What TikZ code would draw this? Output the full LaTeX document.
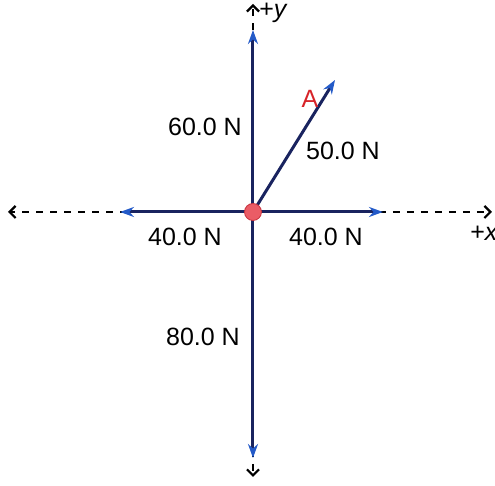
\documentclass[tikz,border=0pt]{standalone}
\usepackage{fontspec}
\setmainfont{Liberation Sans}
\usetikzlibrary{arrows.meta}
\definecolor{forcenavy}{RGB}{25,35,95}
\definecolor{forceblue}{RGB}{35,90,200}
\definecolor{dotred}{RGB}{234,92,102}
\definecolor{dotrim}{RGB}{200,50,62}
\definecolor{labelred}{RGB}{215,35,40}

\begin{document}
\begin{tikzpicture}[x=.5pt,y=.5pt,font=\fontsize{12.5}{15}\selectfont,
    force/.style={draw=forcenavy,line width=1.5pt,-{Stealth[length=7pt,width=5pt,color=forceblue]}},
    axis/.style={draw=black,line width=1pt,dash pattern=on 3.5pt off 3.5pt,-{Straight Barb[length=3pt,width=6pt,line width=1.1pt]}},
    dot/.style={circle,fill=dotred,draw=dotrim,line width=.4pt,minimum size=8.5pt,inner sep=0pt}]
  \useasboundingbox (-253,-274) rectangle (242,212);
  % axes
  \coordinate (O) at (0,0);
  \coordinate (xpos) at (239,0);
  \coordinate (xneg) at (-245,0);
  \coordinate (ypos) at (0,208);
  \coordinate (yneg) at (0,-265);
  \draw[axis] (O) -- (xpos);
  \draw[axis] (O) -- (xneg);
  \draw[axis] (O) -- (ypos);
  \draw[axis] (O) -- (yneg);
  % forces
  \coordinate (Fup) at (0,182);
  \coordinate (Fdown) at (0,-246);
  \coordinate (Fright) at (130,0);
  \coordinate (Fleft) at (-133,0);
  \coordinate (FA) at (82,132);
  \draw[force] (O) -- (Fup);
  \draw[force] (O) -- (Fdown);
  \draw[force] (O) -- (Fright);
  \draw[force] (O) -- (Fleft);
  \draw[force] (O) -- (FA);
  \node[dot] (P) at (O) {};
  % labels
  \node (l60) at (-48,85) {60.0 N};
  \node (l50) at (90,61) {50.0 N};
  \node[text=labelred] (lA) at (57,113) {A};
  \node (l40a) at (-68,-25) {40.0 N};
  \node (l40b) at (73,-25) {40.0 N};
  \node (l80) at (-50,-125) {80.0 N};
  \node[anchor=west,inner sep=0pt] (lx) at (217,-21) {+\textit{x}};
  \node[anchor=west,inner sep=0pt] (ly) at (6,199) {+\textit{y}};
\end{tikzpicture}
\end{document}
